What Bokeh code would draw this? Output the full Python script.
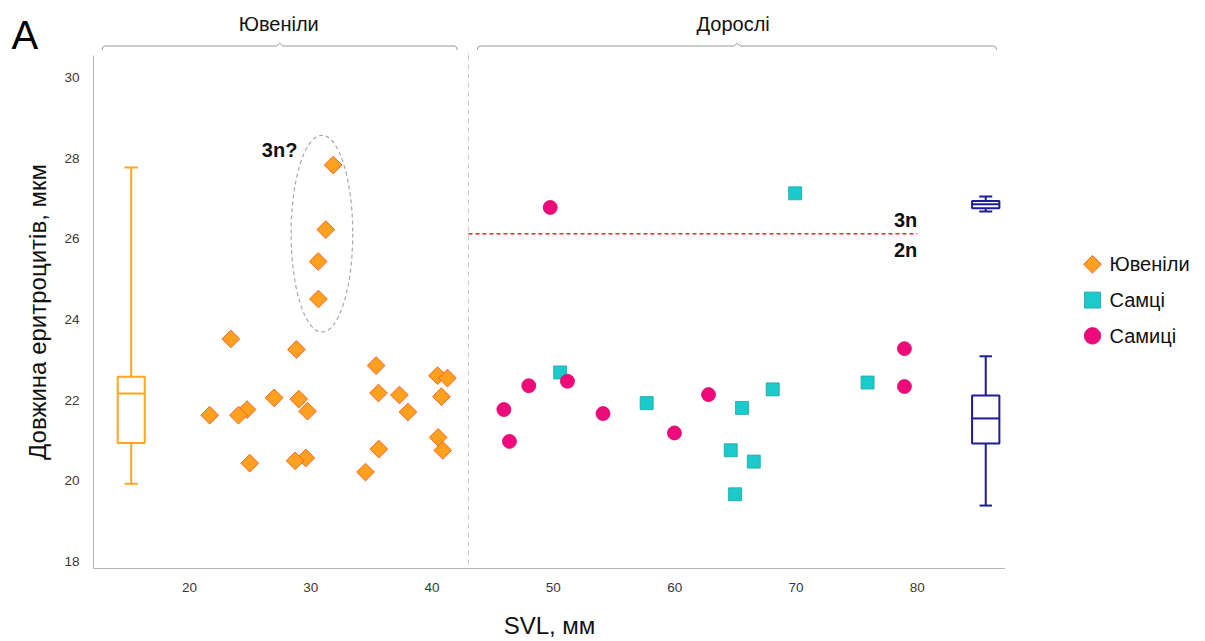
import math
from bokeh.plotting import figure
from bokeh.layouts import column, row
from bokeh.models import Range1d, FixedTicker, Span, ColumnDataSource
from bokeh.core.properties import value
from bokeh.embed import file_html
from bokeh.resources import INLINE

# ---------------- data ----------------
juv_svl = [31.85, 31.24, 30.61, 30.63, 23.41, 28.82, 35.39, 40.45, 41.27, 35.58,
           37.31, 40.77, 26.98, 29.01, 38.01, 29.73, 24.75, 24.04, 21.67, 40.50,
           40.88, 35.61, 29.59, 28.71, 24.97, 34.51]
juv_len = [27.83, 26.23, 25.44, 24.51, 23.52, 23.26, 22.86, 22.61, 22.55, 22.18,
           22.13, 22.09, 22.06, 22.03, 21.71, 21.73, 21.77, 21.63, 21.63, 21.08,
           20.76, 20.79, 20.57, 20.50, 20.44, 20.22]

male_svl = [69.93, 50.56, 57.69, 65.55, 68.08, 75.90, 64.62, 66.52, 64.98]
male_len = [27.13, 22.69, 21.93, 21.81, 22.27, 22.44, 20.76, 20.48, 19.67]

fem_svl = [49.74, 78.94, 78.94, 47.97, 51.16, 45.92, 46.38, 54.09, 62.79, 59.98]
fem_len = [26.78, 23.28, 22.34, 22.36, 22.47, 21.77, 20.98, 21.67, 22.14, 21.19]

# box plots: juveniles, adults (2n), adults (3n)
box_x = [15.20, 85.64, 85.64]
box_low = [19.93, 19.39, 26.68]
box_q1 = [20.94, 20.93, 26.76]
box_med = [22.17, 21.55, 26.86]
box_q3 = [22.58, 22.12, 26.94]
box_high = [27.77, 23.09, 27.05]

x_ticks = [20, 30, 40, 50, 60, 70, 80]
y_ticks = [18, 20, 22, 24, 26, 28, 30]

group_labels = ["Ювеніли", "Дорослі"]
group_start = [12.80, 43.74]
group_end = [42.07, 86.53]
group_mid = [27.44, 65.15]
group_label_x = [27.36, 64.82]

separator_svl = 43.0
ploidy_len = 26.13
ploidy_from = 43.0
ploidy_to = 80.0

cluster_x, cluster_y, cluster_w, cluster_h = 30.92, 26.13, 5.08, 4.88
cluster_label_x, cluster_label_y = 28.90, 28.20

legend_labels = ["Ювеніли", "Самці", "Самиці"]

# ---------------- style ----------------
FONT = "Liberation Sans"
C_JUV = "#ffa11f"
C_JUV_LINE = "#f4652a"
C_BOX_JUV = "#ffa523"
C_MALE = "#1bcbcb"
C_MALE_LINE = "#1fa5a5"
C_FEM = "#ee0a7a"
C_FEM_LINE = "#d8086e"
C_NAVY = "#1c1c96"

X0, X1 = 12.09, 87.27
Y0, Y1 = 17.83, 30.546

# ---------------- main figure ----------------
p = figure(width=1005, height=586, x_range=Range1d(X0, X1), y_range=Range1d(Y0, Y1),
           output_backend="svg", toolbar_location=None,
           min_border_left=93, min_border_right=0, min_border_top=0, min_border_bottom=70)
p.outline_line_color = None
p.grid.visible = False
p.background_fill_color = "white"
p.border_fill_color = "white"

for ax in (p.xaxis, p.yaxis):
    ax.axis_line_color = "#b5b5b5"
    ax.major_tick_line_color = None
    ax.minor_tick_line_color = None
    ax.major_label_text_font = FONT
    ax.major_label_text_font_size = "13.5px"
    ax.major_label_text_color = "#383838"
    ax.axis_label_text_font = FONT
    ax.axis_label_text_font_size = "24px"
    ax.axis_label_text_font_style = "normal"
    ax.axis_label_text_color = "#111111"

p.xaxis.ticker = FixedTicker(ticks=x_ticks)
p.yaxis.ticker = FixedTicker(ticks=y_ticks)
p.xaxis.axis_label = "SVL, мм"
p.yaxis.axis_label = "Довжина еритроцитів, мкм"
p.yaxis.major_label_standoff = 8
p.yaxis.axis_label_standoff = 10
p.xaxis.major_label_standoff = 8
p.xaxis.axis_label_standoff = 17

p.add_layout(Span(location=separator_svl, dimension="height", line_color="#c8c8c8",
                  line_dash="5 4", line_width=1))

p.segment(x0=[ploidy_from], y0=[ploidy_len], x1=[ploidy_to], y1=[ploidy_len],
          line_color="#ff2020", line_dash="4 3", line_width=1.5)
p.text(x=[ploidy_to], y=[ploidy_len], text=["3n"], text_align="right", text_baseline="middle",
       y_offset=-14, text_font=value(FONT), text_font_style="bold", text_font_size="20px",
       text_color="#111111")
p.text(x=[ploidy_to], y=[ploidy_len], text=["2n"], text_align="right", text_baseline="middle",
       y_offset=16, text_font=value(FONT), text_font_style="bold", text_font_size="20px",
       text_color="#111111")

p.ellipse(x=[cluster_x], y=[cluster_y], width=[cluster_w], height=[cluster_h],
          fill_color=None, line_color="#a8a8a8", line_dash="4 3", line_width=1.2)
p.text(x=[cluster_label_x], y=[cluster_label_y], text=["3n?"],
       text_align="right", text_baseline="middle", text_font=value(FONT),
       text_font_style="bold", text_font_size="20px", text_color="#111111")

# box plots
box_w = [2.23, 2.25, 2.25]
cap_w = [1.10, 1.02, 1.07]
box_col = [C_BOX_JUV, C_NAVY, C_NAVY]
bsrc = ColumnDataSource(dict(
    x=box_x, w=box_w, q1=box_q1, q3=box_q3, c=box_col,
    ml=[x - w / 2 for x, w in zip(box_x, box_w)], mr=[x + w / 2 for x, w in zip(box_x, box_w)],
    cl=[x - w / 2 for x, w in zip(box_x, cap_w)], cr=[x + w / 2 for x, w in zip(box_x, cap_w)],
    med=box_med, low=box_low, high=box_high))
p.segment(x0="x", y0="q3", x1="x", y1="high", line_color="c", line_width=2, source=bsrc)
p.segment(x0="x", y0="low", x1="x", y1="q1", line_color="c", line_width=2, source=bsrc)
p.segment(x0="cl", y0="high", x1="cr", y1="high", line_color="c", line_width=2, source=bsrc)
p.segment(x0="cl", y0="low", x1="cr", y1="low", line_color="c", line_width=2, source=bsrc)
p.vbar(x="x", width="w", bottom="q1", top="q3", fill_color="white", line_color="c",
       line_width=2, source=bsrc)
p.segment(x0="ml", y0="med", x1="mr", y1="med", line_color="c", line_width=2, source=bsrc)

# points
p.scatter(juv_svl, juv_len, marker="square", angle=math.pi / 4, size=12.5,
          fill_color=C_JUV, line_color=C_JUV_LINE, line_width=1)
p.scatter(male_svl, male_len, marker="square", size=13,
          fill_color=C_MALE, line_color=C_MALE_LINE, line_width=0.8)
p.scatter(fem_svl, fem_len, marker="circle", size=14,
          fill_color=C_FEM, line_color=C_FEM_LINE, line_width=0.8)

# ---------------- top strip (panel letter, group brackets) ----------------
scale = (1005 - 93) / (X1 - X0)
T0 = X0 - 93 / scale
T1 = X1 + 200 / scale
top = figure(width=1205, height=55, x_range=Range1d(T0, T1), y_range=Range1d(55, 0),
             x_axis_type=None, y_axis_type=None, output_backend="svg",
             toolbar_location=None, min_border=0)
top.outline_line_color = None
top.grid.visible = False
d = 2 / scale
bx, by = [], []
for s, m, e in zip(group_start, group_mid, group_end):
    bx.append([s, s + 0.3 * d, s + 1.5 * d, m - 1.5 * d, m, m + 1.5 * d, e - 1.5 * d, e - 0.3 * d, e])
    by.append([49.5, 46.6, 45.5, 45.5, 42.8, 45.5, 45.5, 46.6, 49.5])
top.multi_line(xs=bx, ys=by, line_color="#9a9a9a", line_width=1)
top.text(x=group_label_x, y=[23, 23], text=group_labels, text_align="center",
         text_baseline="middle", text_font=value(FONT), text_font_size="20px",
         text_color="#111111")
top.text(x=[T0 + 11 / scale], y=[34], text=["A"], text_align="left",
         text_baseline="middle", text_font=value(FONT), text_font_size="40px",
         text_color="#000000")
top.segment(x0=[separator_svl], y0=[53], x1=[separator_svl], y1=[55],
            line_color="#c8c8c8", line_width=1)

# ---------------- legend panel ----------------
leg = figure(width=200, height=586, x_range=Range1d(0, 200), y_range=Range1d(516, 0),
             x_axis_type=None, y_axis_type=None, output_backend="svg",
             toolbar_location=None, min_border_left=0, min_border_right=0,
             min_border_top=0, min_border_bottom=70)
leg.outline_line_color = None
leg.grid.visible = False
ly = [210, 246, 282]
leg.scatter(x=[87], y=[ly[0]], marker="square", angle=math.pi / 4, size=12.5,
            fill_color=C_JUV, line_color=C_JUV_LINE, line_width=1)
leg.scatter(x=[87], y=[ly[1]], marker="square", size=16,
            fill_color=C_MALE, line_color=C_MALE_LINE, line_width=0.8)
leg.scatter(x=[87], y=[ly[2]], marker="circle", size=16.5,
            fill_color=C_FEM, line_color=C_FEM_LINE, line_width=0.8)
leg.text(x=[104, 104, 104], y=ly, text=legend_labels, text_align="left",
         text_baseline="middle", text_font=value(FONT), text_font_size="20px",
         text_color="#111111")

layout = column(top, row(p, leg))
open("out.html", "w").write(file_html(layout, INLINE))
